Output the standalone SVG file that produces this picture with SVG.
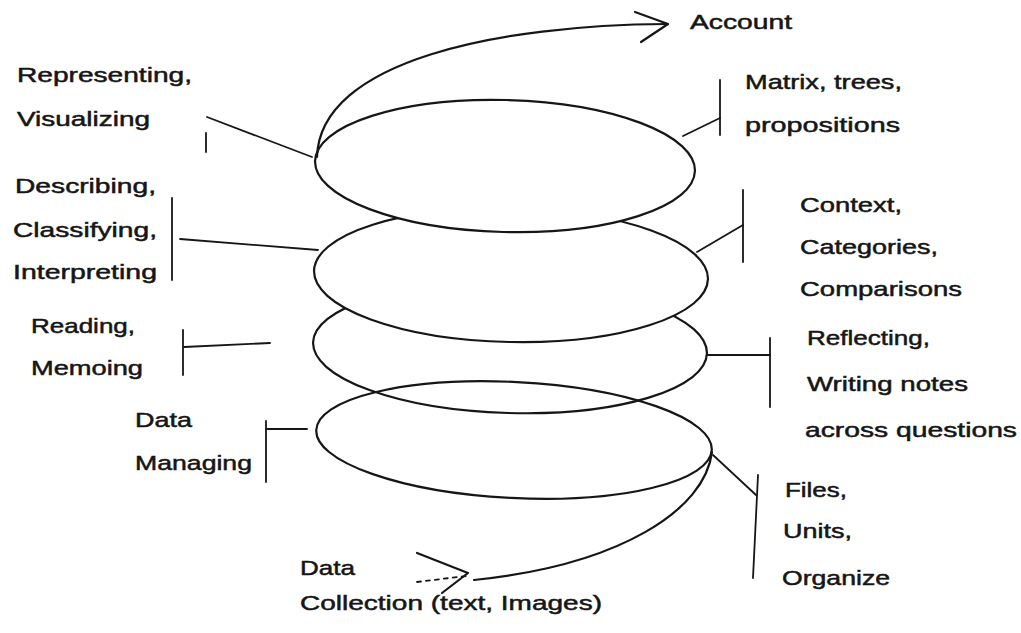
<svg xmlns="http://www.w3.org/2000/svg" width="1021" height="633" viewBox="0 0 1021 633">
<style>
.ln{fill:none;stroke:#161616;stroke-width:2.2;stroke-linecap:round;stroke-linejoin:round}
.lp{fill:#fff;stroke:#161616;stroke-width:2.2}
.tx{font-family:"Liberation Sans",Arial,sans-serif;font-size:21px;fill:#161616;stroke:#161616;stroke-width:0.5}
.thin{fill:none;stroke:#161616;stroke-width:1.8;stroke-linecap:round}
</style>
<rect width="1021" height="633" fill="#fff"/>
<g id="spiral">
<ellipse class="lp" cx="510" cy="348" rx="197" ry="65" transform="rotate(1.6 510 348)"/>
<ellipse class="lp" cx="511" cy="275" rx="197" ry="67" transform="rotate(1.2 511 275)"/>
<ellipse class="lp" cx="505" cy="166" rx="190" ry="66" transform="rotate(1.5 505 166)"/>
<ellipse class="ln" cx="514" cy="440" rx="198" ry="58" transform="rotate(2.9 514 440)"/>
<path class="ln" d="M317,157 C320,60 500,25 667,24"/>
<path class="ln" d="M712,452 C705,510 620,565 474,580"/>
</g>
<g id="arrows">
<polyline class="ln" points="635,12 668,24 641,42"/>
<polyline class="ln" points="417,553 468,573 442,593"/>
<line class="thin" x1="417" y1="582" x2="466" y2="576" stroke-dasharray="4 5"/>
</g>
<g id="connectors">
<line class="thin" x1="207" y1="117" x2="312" y2="157"/>
<line class="thin" x1="206" y1="133" x2="206" y2="152"/>
<line class="thin" x1="172" y1="198" x2="172" y2="280"/>
<line class="thin" x1="180" y1="239" x2="318" y2="250"/>
<line class="thin" x1="183" y1="330" x2="183" y2="375"/>
<line class="thin" x1="184" y1="347" x2="270" y2="343"/>
<line class="thin" x1="266" y1="421" x2="266" y2="482"/>
<line class="thin" x1="266" y1="429" x2="307" y2="429"/>
<line class="thin" x1="720" y1="80" x2="720" y2="135"/>
<line class="thin" x1="683" y1="136" x2="720" y2="118"/>
<line class="thin" x1="743" y1="190" x2="743" y2="262"/>
<line class="thin" x1="697" y1="252" x2="743" y2="225"/>
<line class="thin" x1="770" y1="338" x2="770" y2="407"/>
<line class="ln" x1="708" y1="355" x2="770" y2="355"/>
<line class="thin" x1="758" y1="475" x2="753" y2="578"/>
<line class="thin" x1="713" y1="455" x2="756" y2="495"/>
</g>
<g id="labels">
<text class="tx" x="690" y="29" textLength="102" lengthAdjust="spacingAndGlyphs">Account</text>
<text class="tx" x="17" y="82" textLength="175" lengthAdjust="spacingAndGlyphs">Representing,</text>
<text class="tx" x="17" y="126" textLength="133" lengthAdjust="spacingAndGlyphs">Visualizing</text>
<text class="tx" x="15" y="193" textLength="141" lengthAdjust="spacingAndGlyphs">Describing,</text>
<text class="tx" x="13" y="237" textLength="144" lengthAdjust="spacingAndGlyphs">Classifying,</text>
<text class="tx" x="13" y="279" textLength="144" lengthAdjust="spacingAndGlyphs">Interpreting</text>
<text class="tx" x="31" y="333" textLength="104" lengthAdjust="spacingAndGlyphs">Reading,</text>
<text class="tx" x="31" y="375" textLength="112" lengthAdjust="spacingAndGlyphs">Memoing</text>
<text class="tx" x="135" y="427" textLength="57" lengthAdjust="spacingAndGlyphs">Data</text>
<text class="tx" x="135" y="470" textLength="117" lengthAdjust="spacingAndGlyphs">Managing</text>
<text class="tx" x="745" y="89" textLength="157" lengthAdjust="spacingAndGlyphs">Matrix, trees,</text>
<text class="tx" x="745" y="132" textLength="155" lengthAdjust="spacingAndGlyphs">propositions</text>
<text class="tx" x="800" y="212" textLength="102" lengthAdjust="spacingAndGlyphs">Context,</text>
<text class="tx" x="800" y="254" textLength="138" lengthAdjust="spacingAndGlyphs">Categories,</text>
<text class="tx" x="800" y="296" textLength="162" lengthAdjust="spacingAndGlyphs">Comparisons</text>
<text class="tx" x="807" y="345" textLength="123" lengthAdjust="spacingAndGlyphs">Reflecting,</text>
<text class="tx" x="807" y="391" textLength="161" lengthAdjust="spacingAndGlyphs">Writing notes</text>
<text class="tx" x="805" y="437" textLength="212" lengthAdjust="spacingAndGlyphs">across questions</text>
<text class="tx" x="785" y="497" textLength="62" lengthAdjust="spacingAndGlyphs">Files,</text>
<text class="tx" x="783" y="538" textLength="69" lengthAdjust="spacingAndGlyphs">Units,</text>
<text class="tx" x="782" y="585" textLength="108" lengthAdjust="spacingAndGlyphs">Organize</text>
<text class="tx" x="300" y="575" textLength="55" lengthAdjust="spacingAndGlyphs">Data</text>
<text class="tx" x="300" y="610" textLength="302" lengthAdjust="spacingAndGlyphs">Collection (text, Images)</text>
</g>
</svg>
